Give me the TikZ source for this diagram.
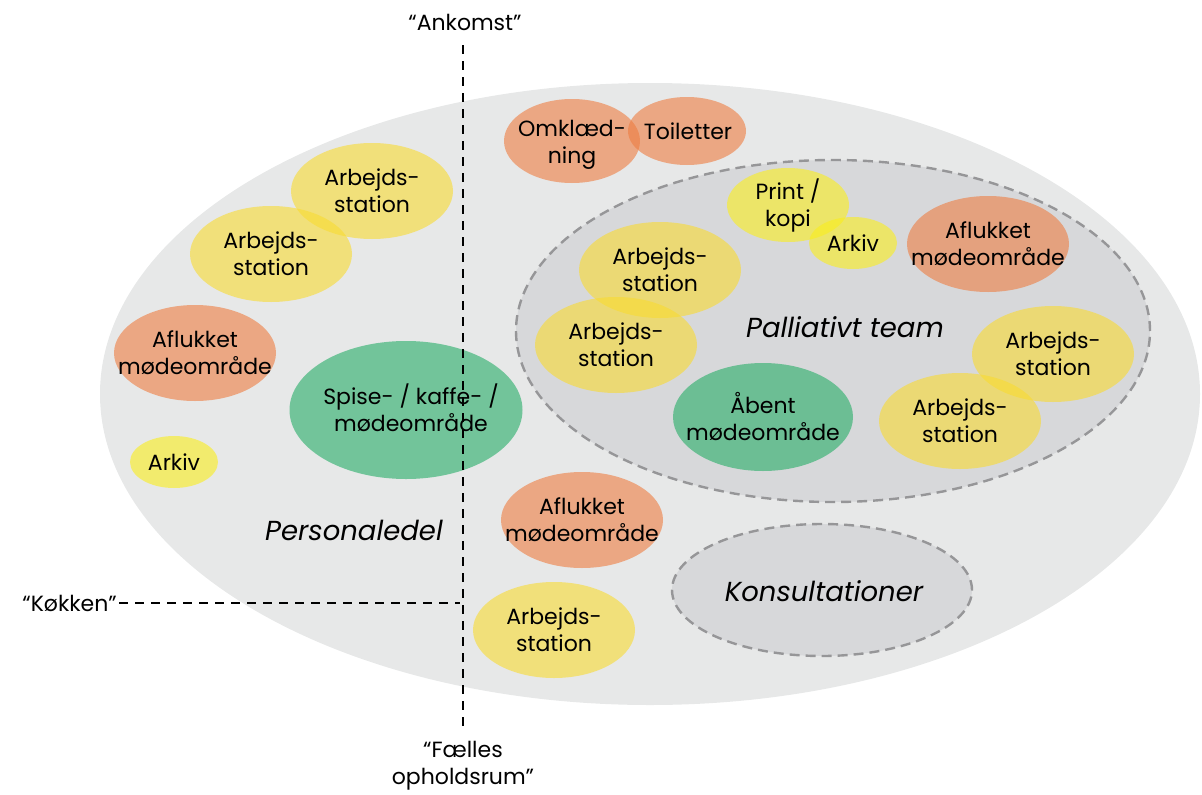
\documentclass[tikz,border=0pt]{standalone}
\usepackage{fontspec}
\setmainfont{Poppins}
\usetikzlibrary{shapes.geometric}
\definecolor{bigbg}{RGB}{231,232,232}
\definecolor{palbg}{RGB}{215,216,218}
\definecolor{zoneline}{RGB}{150,150,152}
\definecolor{orangeC}{RGB}{238,125,65}
\definecolor{yellowC}{RGB}{249,219,49}
\definecolor{lemonC}{RGB}{250,238,28}
\definecolor{greenC}{RGB}{37,173,102}
\begin{document}
\begin{tikzpicture}[x=1pt,y=-1pt,
  area/.style={ellipse, draw=none, inner sep=0pt, outer sep=0pt, fill opacity=0.6},
  zone/.style={ellipse, inner sep=0pt, outer sep=0pt, draw=zoneline, fill=palbg, line width=2.4pt, dash pattern=on 10pt off 6pt},
  lbl/.style={align=center, font=\fontsize{22}{27}\selectfont, text=black, inner sep=0pt},
  biglbl/.style={font=\fontsize{27.5}{30}\selectfont\itshape, text=black, inner sep=0pt},
  guide/.style={line width=2.6pt, dash pattern=on 9pt off 7pt, black},
  ws/.style={area, fill=yellowC, minimum width=162pt, minimum height=96pt},
  mo/.style={area, fill=orangeC, minimum width=162pt, minimum height=96pt}
]
\useasboundingbox (0,0) rectangle (1202,795);
% background areas
\node[ellipse, fill=bigbg, inner sep=0pt, minimum width=1100pt, minimum height=622pt] (base) at (650,394) {};
\node[zone, minimum width=634pt, minimum height=342pt] (pal) at (833,331) {};
\node[zone, minimum width=300pt, minimum height=132pt] (kons) at (822,590) {};
% rooms
\node[area, fill=orangeC, minimum width=136pt, minimum height=84pt] (omk) at (572,141) {};
\node[area, fill=orangeC, minimum width=118pt, minimum height=68pt] (toi) at (687,131) {};
\node[ws] (ws1) at (372,191) {};
\node[ws] (ws2) at (271,254) {};
\node[mo] (mo1) at (195,353) {};
\node[area, fill=greenC, minimum width=233pt, minimum height=138pt] (spise) at (406,410) {};
\node[area, fill=lemonC, minimum width=88pt, minimum height=52pt] (ark1) at (174,462) {};
\node[area, fill=lemonC, minimum width=122pt, minimum height=74pt] (print) at (788,205) {};
\node[area, fill=lemonC, minimum width=88pt, minimum height=52pt] (ark2) at (853,243) {};
\node[ws] (ws3) at (660,270) {};
\node[ws] (ws4) at (616,345) {};
\node[area, fill=greenC, minimum width=180pt, minimum height=108pt] (aab) at (763,417) {};
\node[mo] (mo2) at (988,244) {};
\node[ws] (ws5) at (1053,354) {};
\node[ws] (ws6) at (960,421) {};
\node[mo] (mo3) at (582,520) {};
\node[ws] (ws7) at (554,630) {};
% guide lines
\coordinate (vtop) at (463,45);
\coordinate (vbot) at (463,733);
\coordinate (hend) at (460,603);
\node[lbl, anchor=east] (kok) at (117,603) {“Køkken”};
\draw[guide] (vtop) -- (vbot);
\draw[guide] (kok.east) ++(2pt,0) -- (hend);
\node[lbl] (ank) at (465,22) {“Ankomst”};
\node[lbl] (faelles) at (463,766) {“Fælles\\opholdsrum”};
% labels
\node[lbl] (t-omk) at (572,145) {Omklæd-\\ning};
\node[lbl] (t-toi) at (688,131) {Toiletter};
\node[lbl] (t-ws1) at (ws1) {Arbejds-\\station};
\node[lbl] (t-ws2) at (ws2) {Arbejds-\\station};
\node[lbl] (t-mo1) at (mo1) {Aflukket\\mødeområde};
\node[lbl] (t-spise) at (411,408) {Spise- / kaffe- /\\mødeområde};
\node[lbl] (t-ark1) at (ark1) {Arkiv};
\node[lbl] (t-print) at (print) {Print /\\kopi};
\node[lbl] (t-ark2) at (ark2) {Arkiv};
\node[lbl] (t-ws3) at (ws3) {Arbejds-\\station};
\node[lbl] (t-ws4) at (ws4) {Arbejds-\\station};
\node[lbl] (t-aab) at (aab) {Åbent\\mødeområde};
\node[lbl] (t-mo2) at (mo2) {Aflukket\\mødeområde};
\node[lbl] (t-ws5) at (ws5) {Arbejds-\\station};
\node[lbl] (t-ws6) at (ws6) {Arbejds-\\station};
\node[lbl] (t-mo3) at (mo3) {Aflukket\\mødeområde};
\node[lbl] (t-ws7) at (ws7) {Arbejds-\\station};
\node[biglbl] (t-pers) at (354,530) {Personaledel};
\node[biglbl] (t-pal) at (845,327) {Palliativt team};
\node[biglbl] (t-kons) at (824,591) {Konsultationer};
\end{tikzpicture}
\end{document}
